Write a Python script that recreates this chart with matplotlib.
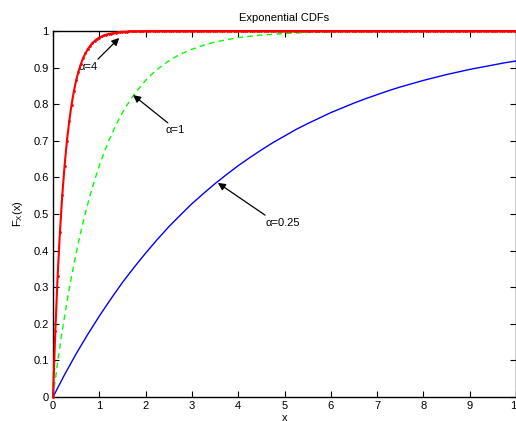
import numpy as np
import matplotlib
matplotlib.use("Agg")
import matplotlib.pyplot as plt

plt.rcParams['font.family'] = ['Liberation Sans', 'DejaVu Sans']
plt.rcParams['mathtext.default'] = 'regular'

# alpha = 4 (red, sampled every 0.05)
red_x = np.round(np.arange(0, 10.0001, 0.05), 2)
red_head = [0.000, 0.181, 0.330, 0.451, 0.551, 0.632, 0.699, 0.753, 0.798, 0.835,
            0.865, 0.889, 0.909, 0.926, 0.939, 0.950, 0.959, 0.967, 0.973, 0.978,
            0.982, 0.985, 0.988, 0.990, 0.992, 0.993, 0.994, 0.995, 0.996, 0.997,
            0.998, 0.998, 0.998, 0.999, 0.999, 0.999, 0.999, 0.999, 0.999, 0.999]
red_y = red_head + [1.0] * (len(red_x) - len(red_head))

# alpha = 1 (green dashed)
green_x = [0, 0.1, 0.2, 0.3, 0.4, 0.5, 0.6, 0.7, 0.8, 0.9, 1.0, 1.1, 1.2, 1.3, 1.4, 1.5,
           1.6, 1.7, 1.8, 1.9, 2.0, 2.1, 2.2, 2.3, 2.4, 2.5, 2.6, 2.7, 2.8, 2.9, 3.0,
           3.25, 3.5, 3.75, 4.0, 4.5, 5.0, 5.5, 6.0, 7.0, 8.0, 9.0, 10.0]
green_y = [0.000, 0.095, 0.181, 0.259, 0.330, 0.393, 0.451, 0.503, 0.551, 0.593, 0.632,
           0.667, 0.699, 0.727, 0.753, 0.777, 0.798, 0.817, 0.835, 0.850, 0.865, 0.878,
           0.889, 0.900, 0.909, 0.918, 0.926, 0.933, 0.939, 0.945, 0.950,
           0.961, 0.970, 0.976, 0.982, 0.989, 0.993, 0.996, 0.998, 0.999, 1.000, 1.000, 1.000]

# alpha = 0.25 (blue)
blue_x = [0, 0.25, 0.5, 0.75, 1, 1.25, 1.5, 1.75, 2, 2.25, 2.5, 2.75, 3, 3.25, 3.5, 3.75,
          4, 4.25, 4.5, 4.75, 5, 5.25, 5.5, 5.75, 6, 6.25, 6.5, 6.75, 7, 7.25, 7.5, 7.75,
          8, 8.25, 8.5, 8.75, 9, 9.25, 9.5, 9.75, 10]
blue_y = [0.000, 0.061, 0.118, 0.171, 0.221, 0.268, 0.313, 0.354, 0.393, 0.430, 0.465,
          0.497, 0.528, 0.556, 0.583, 0.608, 0.632, 0.654, 0.675, 0.695, 0.713, 0.731,
          0.747, 0.762, 0.777, 0.790, 0.803, 0.815, 0.826, 0.837, 0.847, 0.856, 0.865,
          0.873, 0.881, 0.888, 0.895, 0.901, 0.907, 0.913, 0.918]

x_ticks = [0, 1, 2, 3, 4, 5, 6, 7, 8, 9, 10]
y_ticks = [0, 0.1, 0.2, 0.3, 0.4, 0.5, 0.6, 0.7, 0.8, 0.9, 1]
y_tick_labels = ['0', '0.1', '0.2', '0.3', '0.4', '0.5', '0.6', '0.7', '0.8', '0.9', '1']

labels = ['α=4', 'α=1', 'α=0.25']
arrow_tips = [(1.43, 0.981), (1.73, 0.825), (3.56, 0.585)]
arrow_tails = [(0.97, 0.923), (2.48, 0.749), (4.58, 0.497)]
text_pos = [(0.56, 0.902), (2.42, 0.730), (4.58, 0.475)]

fig = plt.figure(figsize=(5.16, 4.21), dpi=100)
ax = fig.add_axes([53/516, 24/421, 463/516, 366/421])

ax.plot(blue_x, blue_y, color=(0, 0, 1), lw=1.0, clip_on=False, zorder=2)
ax.plot(green_x, green_y, color=(0, 1, 0), lw=1.0, ls=(0, (4, 3)), clip_on=False, zorder=3)
ax.plot(red_x, red_y, color=(1, 0, 0), lw=1.5, marker='.', markersize=2,
        clip_on=False, zorder=4)

for lab, tip, tail, tp in zip(labels, arrow_tips, arrow_tails, text_pos):
    ax.annotate('', xy=tip, xytext=tail,
                arrowprops=dict(arrowstyle='-|>', color='k', lw=0.9,
                                mutation_scale=11, shrinkA=0, shrinkB=0))
    ax.text(tp[0], tp[1], lab, fontsize=8, ha='left', va='center')

ax.set_xlim(0, 10)
ax.set_ylim(0, 1)
ax.set_xticks(x_ticks)
ax.set_yticks(y_ticks)
ax.set_yticklabels(y_tick_labels)
ax.tick_params(direction='in', length=4, width=0.8, labelsize=8,
               top=True, right=True, pad=3)
for s in ax.spines.values():
    s.set_linewidth(1.0)
    s.set_zorder(1)

ax.set_title('Exponential CDFs', fontsize=8, pad=7)
ax.set_xlabel('x', fontsize=8, labelpad=1)
ax.set_ylabel('$F_X(x)$', fontsize=8, labelpad=6)

fig.savefig('out.png', dpi=100)
